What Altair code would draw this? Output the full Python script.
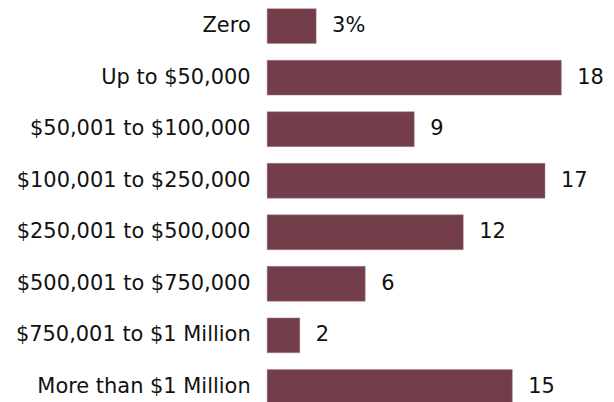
import altair as alt
import pandas as pd

categories = ["Zero", "Up to $50,000", "$50,001 to $100,000", "$100,001 to $250,000",
              "$250,001 to $500,000", "$500,001 to $750,000", "$750,001 to $1 Million",
              "More than $1 Million"]
values = [3, 18, 9, 17, 12, 6, 2, 15]
labels = ["3%", "18", "9", "17", "12", "6", "2", "15"]

df = pd.DataFrame({"cat": categories, "val": values, "lab": labels})

FONT = "DejaVu Sans"
COLOR = "#733d4a"

y = alt.Y("cat:N", sort=categories,
          scale=alt.Scale(paddingInner=0.323, paddingOuter=0),
          axis=alt.Axis(title=None, domain=False, ticks=False, labelFontSize=21,
                        labelFont=FONT, labelColor="#111111", labelPadding=17,
                        labelLimit=400))
x = alt.X("val:Q", scale=alt.Scale(domain=[0, 20]), axis=None)

bars = alt.Chart(df).mark_bar(color=COLOR, stroke="#a88690", strokeWidth=0.5).encode(x=x, y=y)
text = alt.Chart(df).mark_text(align="left", baseline="middle", dx=16, fontSize=21,
                               font=FONT, color="#111111").encode(x=x, y=y, text="lab:N")

chart = (bars + text).properties(
    width=328, height=397,
    autosize=alt.AutoSizeParams(type="none"),
    padding={"left": 260, "top": 0, "right": 12, "bottom": 0},
).configure_view(stroke=None)

chart.save("out.html", embed_options={"renderer": "svg", "actions": False})
